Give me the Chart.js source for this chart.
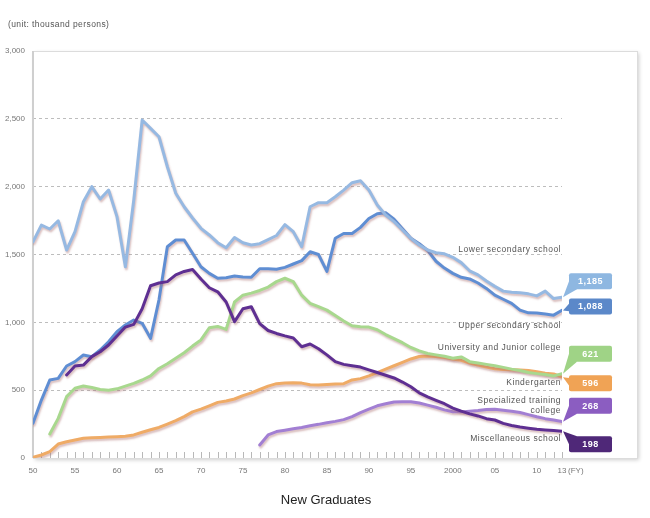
<!DOCTYPE html>
<html lang="en">
<head>
<meta charset="utf-8"/>
<title>New Graduates</title>
<style>
  body { margin: 0; padding: 0; background: #fff; }
  canvas { display: block; }
</style>
</head>
<body>
<canvas id="chart" width="650" height="518"></canvas>
<script src="https://cdn.jsdelivr.net/npm/chart.js"></script>
<script>
// thousand persons, one value per fiscal year from the start year
const xTickYears  = [1950, 1955, 1960, 1965, 1970, 1975, 1980, 1985, 1990, 1995, 2000, 2005, 2010, 2013];
const xTickLabels = ['50', '55', '60', '65', '70', '75', '80', '85', '90', '95', '2000', '05', '10', '13'];

const lowerSecondaryStart = 1950;
const lowerSecondary = [1594, 1717, 1688, 1749, 1533, 1668, 1889, 2000, 1909, 1975,
  1779, 1410, 1902, 2491, 2430, 2368, 2147, 1951, 1852, 1769,
  1693, 1644, 1587, 1550, 1625, 1587, 1570, 1580, 1610, 1640,
  1720, 1668, 1557, 1852, 1882, 1882, 1926, 1975, 2029, 2044,
  1975, 1865, 1791, 1742, 1681, 1619, 1570, 1533, 1513, 1505,
  1479, 1440, 1380, 1350, 1305, 1265, 1230, 1222, 1218, 1210,
  1195, 1230, 1175, 1185];

const upperSecondaryStart = 1950;
const upperSecondary = [256, 427, 575, 587, 678, 710, 759, 747, 796, 857,
  931, 980, 1017, 993, 882, 1165, 1557, 1607, 1607, 1509,
  1410, 1361, 1325, 1329, 1341, 1335, 1332, 1395, 1395, 1391,
  1405, 1430, 1455, 1520, 1500, 1375, 1620, 1655, 1655, 1700,
  1765, 1800, 1808, 1760, 1690, 1620, 1580, 1530, 1450, 1400,
  1361, 1332, 1320, 1290, 1250, 1200, 1170, 1140, 1090, 1070,
  1069, 1061, 1053, 1088];

const universityStart = 1952;
const university = [177, 292, 452, 514, 531, 520, 505, 500,
  510, 530, 550, 575, 605, 660, 695, 735, 776, 825,
  870, 960, 970, 948, 1150, 1200, 1215, 1235, 1260, 1300,
  1325, 1300, 1200, 1140, 1115, 1090, 1050, 1010, 975, 968,
  965, 945, 910, 880, 850, 815, 790, 770, 760, 750,
  735, 745, 710, 700, 690, 680, 668, 655, 645, 630,
  622, 615, 605, 621];

const kindergartenStart = 1950;
const kindergarten = [5, 22, 47, 103, 120, 133, 145, 150, 152, 154,
  157, 160, 170, 190, 208, 225, 250, 275, 305, 340,
  360, 385, 410, 420, 435, 460, 480, 505, 530, 548,
  553, 555, 552, 540, 538, 542, 546, 548, 575, 585,
  605, 630, 655, 680, 705, 730, 748, 752, 748, 740,
  730, 720, 700, 685, 670, 658, 652, 650, 648, 645,
  635, 625, 620, 596];

const specializedStart = 1977;
const specialized = [96, 170, 195,
  205, 215, 225, 238, 248, 260, 270, 283, 305, 335,
  360, 385, 400, 413, 415, 415, 405, 390, 374, 355,
  341, 340, 345, 350, 358, 360, 352, 345, 335, 320,
  304, 290, 280, 268];

const miscellaneousStart = 1954;
const miscellaneous = [612, 678, 685, 747, 783, 833,
  900, 965, 985, 1100, 1270, 1290, 1300, 1350, 1375, 1390,
  1320, 1255, 1225, 1150, 1005, 1100, 1115, 990, 940, 918,
  900, 885, 820, 840, 805, 760, 710, 690, 680, 670,
  650, 630, 610, 590, 560, 525, 480, 450, 425, 400,
  368, 345, 325, 310, 290, 280, 255, 240, 228, 220,
  212, 207, 203, 198];

// drawing order: first entry ends up on top
const series = [
  { name: ['Miscellaneous school'], start: miscellaneousStart, values: miscellaneous,
    line: '#5e2f92', box: '#4f2878', boxDy: 13, nameAt: [140] },
  { name: ['Lower secondary school'], start: lowerSecondaryStart, values: lowerSecondary,
    line: '#96b9e2', box: '#8eb7e1', boxDy: -16, nameAt: [1533] },
  { name: ['Upper secondary school'], start: upperSecondaryStart, values: upperSecondary,
    line: '#5f8ed3', box: '#5b88c9', boxDy: -4, nameAt: [973] },
  { name: ['University and Junior college'], start: universityStart, values: university,
    line: '#a8d88e', box: '#9fd386', boxDy: -20, nameAt: [811] },
  { name: ['Kindergarten'], start: kindergartenStart, values: kindergarten,
    line: '#efab66', box: '#f0a355', boxDy: 6, nameAt: [553] },
  { name: ['Specialized training', 'college'], start: specializedStart, values: specialized,
    line: '#a27fd3', box: '#8b5dc1', boxDy: -16, nameAt: [420, 346] }
];

const FONT = '"Liberation Sans", Arial, sans-serif';

const decor = {
  id: 'decor',
  beforeDraw(chart) {
    const { ctx, chartArea: a } = chart;
    ctx.save();
    ctx.fillStyle = '#fff';
    ctx.fillRect(0, 0, chart.width, chart.height);
    ctx.shadowColor = 'rgba(0,0,0,0.2)';
    ctx.shadowBlur = 4;
    ctx.shadowOffsetX = 2;
    ctx.shadowOffsetY = 2;
    ctx.fillRect(a.left, a.top, a.right + 75 - a.left, a.bottom - a.top);
    ctx.restore();
    ctx.save();
    ctx.strokeStyle = '#dcdcdc';
    ctx.lineWidth = 1;
    ctx.strokeRect(a.left + 0.5, a.top + 0.5, a.right + 75 - a.left, a.bottom - a.top);
    ctx.restore();
  },
  beforeDatasetsDraw(chart) {
    const { ctx, chartArea: a, scales: { x } } = chart;
    ctx.save();
    ctx.strokeStyle = '#b8b8b8';
    ctx.lineWidth = 1;
    for (let yr = x.min + 1; yr <= x.max; yr++) {
      const px = Math.round(x.getPixelForValue(yr)) + 0.5;
      ctx.beginPath();
      ctx.moveTo(px, a.bottom);
      ctx.lineTo(px, a.bottom - 6);
      ctx.stroke();
    }
    ctx.strokeStyle = '#cfcfcf';
    ctx.lineWidth = 2;
    ctx.beginPath();
    ctx.moveTo(a.left, a.top);
    ctx.lineTo(a.left, a.bottom);
    ctx.stroke();
    ctx.restore();
  },
  beforeDatasetDraw(chart) {
    const ctx = chart.ctx;
    ctx.save();
    ctx.shadowColor = 'rgba(170,110,110,0.45)';
    ctx.shadowBlur = 2;
    ctx.shadowOffsetX = 1;
    ctx.shadowOffsetY = 2;
  },
  afterDatasetDraw(chart) {
    chart.ctx.restore();
  },
  afterDraw(chart) {
    const { ctx, chartArea: a, scales: { x, y } } = chart;
    ctx.save();

    // series names
    ctx.font = '8.5px ' + FONT;
    ctx.fillStyle = '#555';
    ctx.textAlign = 'right';
    ctx.textBaseline = 'middle';
    ctx.letterSpacing = '0.5px';
    series.forEach(s => {
      s.name.forEach((t, k) => ctx.fillText(t, a.right - 1, y.getPixelForValue(s.nameAt[k])));
    });

    // end value boxes
    const bw = 43, bh = 16;
    series.forEach(s => {
      const last = s.values[s.values.length - 1];
      const lastYear = s.start + s.values.length - 1;
      const tipX = x.getPixelForValue(lastYear) + 1;
      const tipY = y.getPixelForValue(last);
      const bx = a.right + 7;
      const cy = tipY + s.boxDy;
      const by = cy - bh / 2;
      ctx.fillStyle = s.box;
      ctx.beginPath();
      ctx.moveTo(tipX, tipY);
      if (s.boxDy < -6) {
        ctx.lineTo(bx, by + bh - 8);
        ctx.lineTo(bx + 8, by + bh);
      } else if (s.boxDy > 6) {
        ctx.lineTo(bx + 8, by);
        ctx.lineTo(bx, by + 8);
      } else {
        ctx.lineTo(bx + 2, cy - 5);
        ctx.lineTo(bx + 2, cy + 5);
      }
      ctx.closePath();
      ctx.fill();
      ctx.beginPath();
      ctx.roundRect(bx, by, bw, bh, 2);
      ctx.fill();
      ctx.fillStyle = '#fff';
      ctx.font = 'bold 9px ' + FONT;
      ctx.textAlign = 'center';
      ctx.letterSpacing = '0.5px';
      ctx.fillText(last.toLocaleString('en-US'), bx + bw / 2, cy + 0.5);
    });

    // axis extras and titles
    ctx.letterSpacing = '0px';
    ctx.fillStyle = '#777';
    ctx.font = '8px ' + FONT;
    ctx.textAlign = 'left';
    ctx.fillText('(FY)', x.getPixelForValue(2013) + 6, a.bottom + 13);

    ctx.fillStyle = '#555';
    ctx.font = '8.5px ' + FONT;
    ctx.letterSpacing = '0.4px';
    ctx.fillText('(unit: thousand persons)', 8, 25);

    ctx.letterSpacing = '0px';
    ctx.fillStyle = '#222';
    ctx.font = '13px ' + FONT;
    ctx.textAlign = 'center';
    ctx.fillText('New Graduates', 326, 500);
    ctx.restore();
  }
};

new Chart(document.getElementById('chart'), {
  type: 'line',
  data: {
    datasets: series.map(s => ({
      label: s.name.join(' '),
      data: s.values.map((v, i) => ({ x: s.start + i, y: v })),
      borderColor: s.line,
      borderWidth: 3,
      pointRadius: 0,
      tension: 0,
      fill: false,
      borderJoinStyle: 'round',
      borderCapStyle: 'round'
    }))
  },
  options: {
    responsive: false,
    animation: false,
    layout: { padding: { top: 51, right: 88, left: 0, bottom: 0 } },
    plugins: { legend: { display: false }, tooltip: { enabled: false } },
    scales: {
      x: {
        type: 'linear',
        min: 1950,
        max: 2013,
        grid: { display: false },
        border: { display: false },
        afterBuildTicks: s => { s.ticks = xTickYears.map(v => ({ value: v })); },
        afterFit: s => { s.height = 60; },
        ticks: {
          autoSkip: false,
          maxRotation: 0,
          padding: 0,
          color: '#777',
          font: { size: 8, family: FONT },
          callback: v => {
            const i = xTickYears.indexOf(v);
            return i < 0 ? '' : xTickLabels[i];
          }
        }
      },
      y: {
        min: 0,
        max: 3000,
        afterFit: s => { s.width = 33; },
        grid: {
          drawTicks: false,
          color: c => (c.tick.value === 0 || c.tick.value === 3000) ? 'rgba(0,0,0,0)' : '#bdbdbd'
        },
        border: { display: false, dash: [3, 3] },
        ticks: {
          stepSize: 500,
          padding: 8,
          color: '#777',
          font: { size: 8, family: FONT },
          callback: v => v.toLocaleString('en-US')
        }
      }
    }
  },
  plugins: [decor]
});
</script>
</body>
</html>
